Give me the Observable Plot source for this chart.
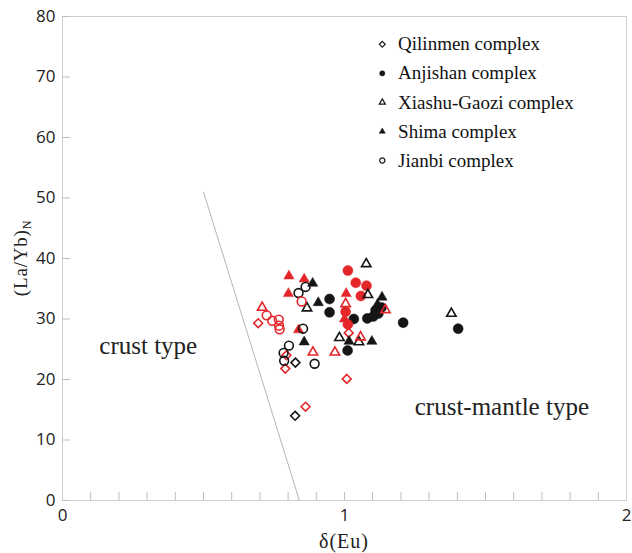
<!DOCTYPE html>
<html><head><meta charset="utf-8">
<script src="https://cdn.jsdelivr.net/npm/d3@7"></script>
<script src="https://cdn.jsdelivr.net/npm/@observablehq/plot@0.6"></script>
<style>body{margin:0;background:#fff;}</style>
</head><body><div id="chart"></div>
<script>
// ---- data: [δ(Eu), (La/Yb)N, data set] ; set "a" = black, set "b" = red
const complexes = ["Qilinmen complex","Anjishan complex","Xiashu-Gaozi complex","Shima complex","Jianbi complex"];
const qilinmen = [
  [0.825,14.0,"a"],[0.826,22.8,"a"],
  [0.862,15.5,"b"],[0.694,29.3,"b"],[0.794,24.0,"b"],[0.790,21.8,"b"],[1.015,27.7,"b"],[1.008,20.1,"b"]
];
const anjishan = [
  [0.947,33.3,"a"],[0.947,31.1,"a"],[1.033,30.0,"a"],[1.011,24.8,"a"],[1.081,30.1,"a"],[1.102,30.4,"a"],
  [1.120,30.9,"a"],[1.131,31.9,"a"],[1.110,31.4,"a"],[1.208,29.4,"a"],[1.403,28.4,"a"],
  [1.012,38.0,"b"],[1.040,36.0,"b"],[1.078,35.5,"b"],[1.058,33.8,"b"],[1.004,31.2,"b"],[1.012,29.1,"b"]
];
const xiashuGaozi = [
  [1.077,39.1,"a"],[1.083,34.0,"a"],[0.867,31.8,"a"],[0.982,26.9,"a"],[1.051,26.2,"a"],[1.379,30.9,"a"],
  [0.708,31.9,"b"],[1.004,32.5,"b"],[1.057,27.0,"b"],[1.145,31.5,"b"],[0.888,24.5,"b"],[0.966,24.5,"b"]
];
const shima = [
  [0.887,35.9,"a"],[0.907,32.7,"a"],[0.857,26.2,"a"],[1.016,26.3,"a"],[1.097,26.3,"a"],[1.133,33.6,"a"],[1.117,32.4,"a"],
  [0.803,37.1,"b"],[0.857,36.6,"b"],[0.801,34.2,"b"],[0.837,28.2,"b"],[1.006,34.2,"b"],[1.000,30.0,"b"]
];
const jianbi = [
  [0.837,34.3,"a"],[0.862,35.3,"a"],[0.853,28.4,"a"],[0.803,25.6,"a"],[0.784,24.4,"a"],[0.786,23.1,"a"],[0.894,22.6,"a"],
  [0.848,32.9,"b"],[0.724,30.6,"b"],[0.744,29.7,"b"],[0.767,29.9,"b"],[0.768,28.9,"b"],[0.770,28.3,"b"]
];
const boundary = [[0.5,51],[0.84,0]];
const regionLabels = [["crust type",0.304,25.5],["crust-mantle type",1.558,15.4]];
const xTickLabels = [0,1,2];
const xMinorTicks = d3.range(1,20).map(i => i/10);
const yTicks = [0,10,20,30,40,50,60,70,80];

// ---- styling
const setColor = {a:"#151515", b:"#e4262b"};
const styleOf = [
  {symbol:"diamond2", filled:false, r:4.0},
  {symbol:"circle",   filled:true,  r:5.0},
  {symbol:"triangle2",filled:false, r:4.5},
  {symbol:"triangle2",filled:true,  r:4.9},
  {symbol:"circle",   filled:false, r:4.4}
];
const seriesData = [qilinmen, anjishan, xiashuGaozi, shima, jianbi];
const rows = (arr, c) => arr.map(([x,y,s]) => ({x, y, set:s, complex:c}));

const dotMarks = seriesData.map((arr, i) => {
  const st = styleOf[i];
  return Plot.dot(rows(arr, complexes[i]), {
    x:"x", y:"y", symbol: () => st.symbol, r: st.r,
    fill: st.filled ? d => setColor[d.set] : "none",
    stroke: d => setColor[d.set],
    strokeWidth: st.filled ? 0.5 : 1.6
  });
});

const legendRows = complexes.map((c, i) => ({c, i, x:1.134, tx:1.19, y:75.4 - i*4.8}));
const legendMarks = [
  ...legendRows.map(d => {
    const st = styleOf[d.i];
    return Plot.dot([d], {x:"x", y:"y", symbol: () => st.symbol, r: st.symbol==="triangle2" ? 2.9 : 2.6,
      fill: st.filled ? "#151515" : "none", stroke:"#151515", strokeWidth: st.filled ? 0.5 : 1.2});
  }),
  Plot.text(legendRows, {x:"tx", y:"y", text:"c", textAnchor:"start", fontFamily:"Liberation Serif",
    fontSize:19, fill:"#111", style:"letter-spacing:2.3px"})
];

const chart = Plot.plot({
  width:632, height:553,
  marginLeft:62, marginRight:6, marginTop:16, marginBottom:53,
  x:{domain:[0,2]}, y:{domain:[0,80]},
  style:{fontFamily:"Open Sans", fontSize:"17px", color:"#222", background:"white"},
  marks:[
    Plot.frame({stroke:"#cfcfcf"}),
    Plot.axisX({ticks:xMinorTicks, tickSize:-8, stroke:"#bdbdbd", tickFormat:() => "", label:null}),
    Plot.axisX({ticks:xTickLabels, tickSize:0, tickPadding:8, tickFormat:d3.format("d"), label:null, fontSize:17, fill:"#222"}),
    Plot.axisY({ticks:yTicks, tickSize:-8, stroke:"#bdbdbd", tickFormat:() => "", label:null}),
    Plot.axisY({ticks:yTicks, tickSize:0, tickPadding:7, label:null, fontSize:17, fill:"#222"}),
    Plot.line(boundary.map(([x,y]) => ({x,y})), {x:"x", y:"y", stroke:"#b5b5b5", strokeWidth:1}),
    Plot.text(regionLabels.map(([t,x,y]) => ({t,x,y})), {x:"x", y:"y", text:"t", fontFamily:"Liberation Serif",
      fontSize:25, fill:"#222", style:"letter-spacing:3.4px"}),
    ...dotMarks,
    ...legendMarks
  ]
});

const svg = d3.select(chart);
svg.append("text")
  .attr("x", 62 + 282).attr("y", 548)
  .attr("text-anchor","middle")
  .attr("font-family","Liberation Serif").attr("font-size",20).attr("fill","#222")
  .style("letter-spacing","1px")
  .text("δ(Eu)");
const yl = svg.append("text")
  .attr("transform","translate(27,258) rotate(-90)")
  .attr("text-anchor","middle")
  .attr("font-family","Liberation Serif").attr("font-size",19).attr("fill","#222")
  .style("letter-spacing","0.8px");
yl.append("tspan").text("(La/Yb)");
yl.append("tspan").attr("dy",4).attr("font-size",12).text("N");

document.getElementById("chart").appendChild(chart);
</script>
</body></html>
